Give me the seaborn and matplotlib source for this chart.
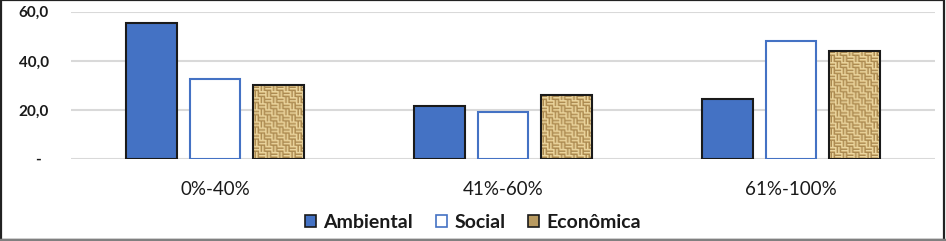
import numpy as np
import pandas as pd
import matplotlib
matplotlib.use("Agg")
import matplotlib.pyplot as plt
from matplotlib.patches import Patch, Rectangle
from matplotlib.lines import Line2D
import seaborn as sns

# ---- data ----
categories = ["0%-40%", "41%-60%", "61%-100%"]
series_names = ["Ambiental", "Social", "Econômica"]
ambiental = [55.3, 21.6, 24.4]
social = [32.6, 19.1, 48.1]
economica = [30.1, 26.1, 44.1]
ytick_values = [0, 20, 40, 60]
ytick_labels = ["-  ", "20,0", "40,0", "60,0"]

df = pd.DataFrame({
    "faixa": categories * 3,
    "dimensao": [series_names[0]] * 3 + [series_names[1]] * 3 + [series_names[2]] * 3,
    "valor": ambiental + social + economica,
})

sns.set_theme(style="white")
plt.rcParams["font.family"] = ["Lato", "DejaVu Sans"]

W, H = 946, 241
fig = plt.figure(figsize=(W / 100, H / 100), dpi=100)
ax = fig.add_axes([71 / W, (H - 159) / H, 864 / W, (159 - 11.7) / H])

BLUE = "#4472C4"
palette = {"Ambiental": BLUE, "Social": "white", "Econômica": "#c8aa70"}
sns.barplot(data=df, x="faixa", y="valor", hue="dimensao", hue_order=series_names,
            order=categories, palette=palette, saturation=1, width=0.662, gap=0.2,
            legend=False, ax=ax)

ax.set_xlim(-0.5, 2.5)
ax.set_ylim(0, 60)
ax.set_yticks(ytick_values)
ax.set_yticklabels(ytick_labels, fontsize=11, fontweight="bold", color="#1a1a1a")
ax.tick_params(axis="y", length=0, pad=16)
ax.tick_params(axis="x", length=0, pad=16, labelsize=13.5, labelcolor="#1a1a1a")
ax.set_xlabel("")
ax.set_ylabel("")
for s in ax.spines.values():
    s.set_visible(False)
ax.grid(axis="y", color="#d9d9d9", lw=1.5)
ax.set_axisbelow(True)

edge_colors = ["#1a1a1a", BLUE, "#1a1a1a"]
for cont, ec in zip(ax.containers, edge_colors):
    for p in cont.patches:
        p.set_edgecolor(ec)
        p.set_linewidth(1.5)
        p.set_zorder(2)


def weave(h, w):
    yy, xx = np.mgrid[0:h, 0:w]
    block = ((yy // 6) + (xx // 6)) % 2
    phase = np.where(block == 0, yy % 3, xx % 3)
    light = np.array([0.93, 0.85, 0.64])
    mid = np.array([0.82, 0.70, 0.46])
    dark = np.array([0.66, 0.53, 0.31])
    img = np.where((phase == 0)[..., None], light, np.where((phase == 1)[..., None], mid, dark))
    return img


fig.canvas.draw()
for p in ax.containers[2].patches:
    x0, y0 = p.get_x(), p.get_y()
    x1, y1 = x0 + p.get_width(), y0 + p.get_height()
    (px0, py0), (px1, py1) = ax.transData.transform([(x0, y0), (x1, y1)])
    img = weave(max(int(abs(py1 - py0)), 1), max(int(abs(px1 - px0)), 1))
    im = ax.imshow(img, extent=[x0, x1, y0, y1], aspect="auto",
                   interpolation="bilinear", zorder=1.9, origin="upper")
    im.set_clip_path(p)
    p.set_facecolor("none")
ax.set_xlim(-0.5, 2.5)
ax.set_ylim(0, 60)

handles = [
    Patch(facecolor=BLUE, edgecolor="#1a1a1a", lw=1.2),
    Patch(facecolor="white", edgecolor=BLUE, lw=1.2),
    Patch(facecolor="#b89a60", edgecolor="#1a1a1a", lw=1.2),
]
fig.legend(handles, series_names, loc="center", bbox_to_anchor=(0.5, (H - 222) / H),
           ncol=3, frameon=False, handlelength=0.58, handleheight=0.58,
           handletextpad=0.38, columnspacing=1.15,
           prop={"size": 14, "weight": "bold"}, labelcolor="#1a1a1a")

fig.patches.append(Rectangle((0.001, 0.004), 0.997, 0.994, transform=fig.transFigure,
                             fill=False, edgecolor="#222222", lw=1.6))
fig.lines.append(Line2D([0, 1], [0.005, 0.005], transform=fig.transFigure,
                        color="#808080", lw=2.5))

fig.savefig("out.png", dpi=100)
